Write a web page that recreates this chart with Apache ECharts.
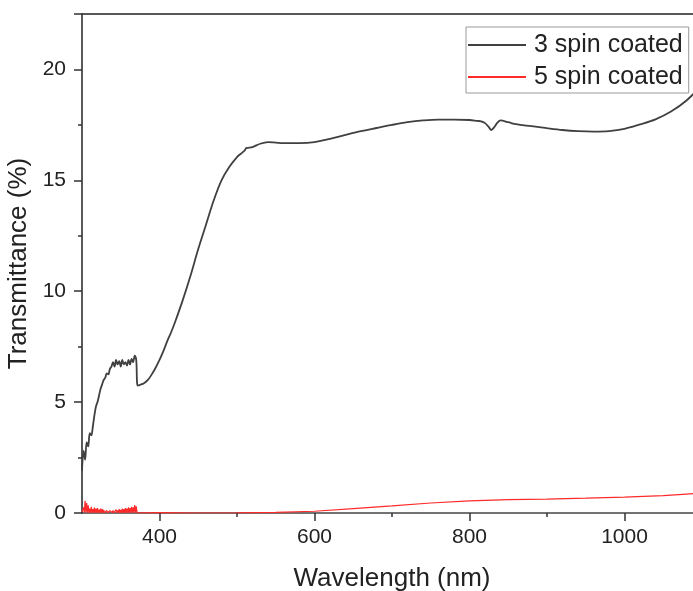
<!DOCTYPE html>
<html>
<head>
<meta charset="utf-8">
<script src="https://cdn.jsdelivr.net/npm/echarts@6/dist/echarts.min.js"></script>
<style>
  html, body { margin: 0; padding: 0; background: #fff; }
  #chart { width: 693px; height: 591px; }
</style>
</head>
<body>
<div id="chart"></div>
<script>
  // 3 spin coated (black)
  const wl3 = [300, 302, 304, 306, 308, 310, 312, 314, 316, 318, 320, 322, 324, 326, 328, 330, 332, 334, 336, 338,
    340, 342, 344, 346, 348, 350, 352, 354, 356, 358, 360, 362, 364, 366, 368, 370, 371, 372,
    375, 380, 385, 390, 395, 400, 405, 410, 415, 420, 430, 440, 450, 460, 470, 480, 490, 500, 505, 510, 512,
    520, 530, 540, 550, 560, 580, 600, 620, 640, 660, 680, 700, 720, 740, 760, 780, 800, 810, 815, 820, 825,
    828, 832, 836, 840, 850, 860, 880, 900, 920, 940, 960, 980, 1000, 1020, 1040, 1060, 1080, 1100]
  const t3 = [1.9, 2.8, 2.4, 3.2, 3.0, 3.6, 3.5, 3.9, 4.4, 4.8, 5.0, 5.3, 5.6, 5.8, 6.0, 6.1, 6.3, 6.25, 6.5, 6.6,
    6.8, 6.6, 6.9, 6.7, 6.85, 6.6, 6.9, 6.7, 6.8, 6.65, 6.9, 6.7, 6.95, 6.8, 7.1, 6.9, 5.9, 5.75,
    5.78, 5.85, 6.0, 6.25, 6.55, 6.9, 7.3, 7.75, 8.15, 8.6, 9.6, 10.7, 11.9, 13.0, 14.1, 15.0, 15.6, 16.05, 16.2, 16.35, 16.45,
    16.5, 16.65, 16.72, 16.7, 16.68, 16.68, 16.72, 16.87, 17.05, 17.22, 17.36, 17.5, 17.62, 17.7, 17.74, 17.74, 17.72, 17.68, 17.66, 17.58, 17.4,
    17.27, 17.4, 17.6, 17.7, 17.62, 17.53, 17.44, 17.35, 17.27, 17.22, 17.2, 17.22, 17.32, 17.52, 17.75, 18.1, 18.6, 19.3]

  // 5 spin coated (red)
  const wl5 = [300, 301, 302, 303, 304, 305, 306, 307, 308, 309, 310, 311, 312, 313, 314, 315, 316, 317, 318, 319,
    320, 321, 322, 323, 324, 325, 326, 327, 328, 329, 330, 331, 332, 333, 334, 335, 336, 337, 338, 339,
    340, 341, 342, 343, 344, 345, 346, 347, 348, 349, 350, 351, 352, 353, 354, 355, 356, 357, 358, 359,
    360, 361, 362, 363, 364, 365, 366, 367, 368, 369, 370, 371, 372,
    380, 400, 450, 500, 550, 600, 650, 700, 750, 800, 850, 900, 950, 1000, 1050, 1080, 1100]
  const t5 = [0.05, 0.01, 0.25, 0.02, 0.55, 0.03, 0.45, 0.02, 0.35, 0.01, 0.2, 0.02, 0.28, 0.01, 0.18, 0.02, 0.24, 0.01, 0.2, 0.02,
    0.22, 0.01, 0.15, 0.02, 0.2, 0.01, 0.18, 0.02, 0.14, 0.01, 0.1, 0.02, 0.12, 0.01, 0.08, 0.02, 0.1, 0.01, 0.07, 0.02,
    0.12, 0.01, 0.1, 0.02, 0.15, 0.01, 0.12, 0.02, 0.18, 0.01, 0.14, 0.02, 0.2, 0.01, 0.18, 0.02, 0.22, 0.01, 0.2, 0.02,
    0.25, 0.01, 0.22, 0.02, 0.28, 0.01, 0.26, 0.02, 0.36, 0.01, 0.3, 0.02, 0.02,
    0.01, 0.02, 0.0, 0.01, 0.03, 0.08, 0.2, 0.32, 0.45, 0.55, 0.6, 0.63, 0.67, 0.72, 0.78, 0.85, 0.9]

  const xMajor = [400, 600, 800, 1000]
  const xMinor = [500, 700, 900]

  const font = 'Liberation Sans, Arial, sans-serif'
  const chart = echarts.init(document.getElementById('chart'))

  chart.setOption({
    animation: false,
    grid: { left: 82, top: 14, width: 620, height: 499, outerBoundsMode: 'none' },
    legend: {
      orient: 'vertical',
      left: 466,
      top: 27,
      padding: [4, 6, 2, 2],
      itemGap: 4,
      itemWidth: 58,
      itemHeight: 2,
      icon: 'rect',
      borderColor: '#999',
      borderWidth: 1,
      textStyle: { fontFamily: font, fontSize: 25, color: '#222', lineHeight: 28, padding: [0, 0, 0, 3] },
      data: ['3 spin coated', '5 spin coated']
    },
    xAxis: [{
      type: 'value',
      min: 300,
      max: 1100,
      name: 'Wavelength (nm)',
      nameLocation: 'middle',
      nameGap: 53,
      nameTextStyle: { fontFamily: font, fontSize: 26, color: '#222' },
      axisLine: { lineStyle: { color: '#444', width: 1.5 } },
      axisTick: { length: 8, lineStyle: { color: '#333', width: 1.5 }, customValues: xMajor },
      axisLabel: { fontFamily: font, fontSize: 21, color: '#222', margin: 14, customValues: xMajor,
        formatter: (v) => String(v) },
      splitLine: { show: false }
    }, {
      type: 'value',
      position: 'bottom',
      min: 300,
      max: 1100,
      axisLine: { show: false },
      axisTick: { length: 4, lineStyle: { color: '#333', width: 1.5 }, customValues: xMinor },
      axisLabel: { show: false },
      splitLine: { show: false }
    }, {
      type: 'value',
      position: 'top',
      min: 300,
      max: 1100,
      axisLine: { lineStyle: { color: '#222', width: 1.5 } },
      axisTick: { show: false },
      axisLabel: { show: false },
      splitLine: { show: false }
    }],
    yAxis: {
      type: 'value',
      min: 0,
      max: 22.5,
      interval: 5,
      name: 'Transmittance (%)',
      nameLocation: 'middle',
      nameGap: 40,
      nameTextStyle: { fontFamily: font, fontSize: 26, color: '#222' },
      axisLine: { show: true, lineStyle: { color: '#222', width: 1.5 } },
      axisTick: { show: true, length: 8, lineStyle: { color: '#333', width: 1.5 } },
      minorTick: { show: true, splitNumber: 2, length: 4, lineStyle: { color: '#333', width: 1.5 } },
      axisLabel: { fontFamily: font, fontSize: 21, color: '#222', margin: 16, showMaxLabel: false },
      splitLine: { show: false }
    },
    series: [{
      name: '3 spin coated',
      type: 'line',
      symbol: 'none',
      smooth: 0.35,
      data: wl3.map((w, i) => [w, t3[i]]),
      lineStyle: { color: '#404040', width: 1.8 },
      itemStyle: { color: '#404040' }
    }, {
      name: '5 spin coated',
      type: 'line',
      symbol: 'none',
      data: wl5.map((w, i) => [w, t5[i]]),
      lineStyle: { color: '#ff2a2a', width: 1.2 },
      itemStyle: { color: '#ff2a2a' }
    }]
  })
</script>
</body>
</html>
